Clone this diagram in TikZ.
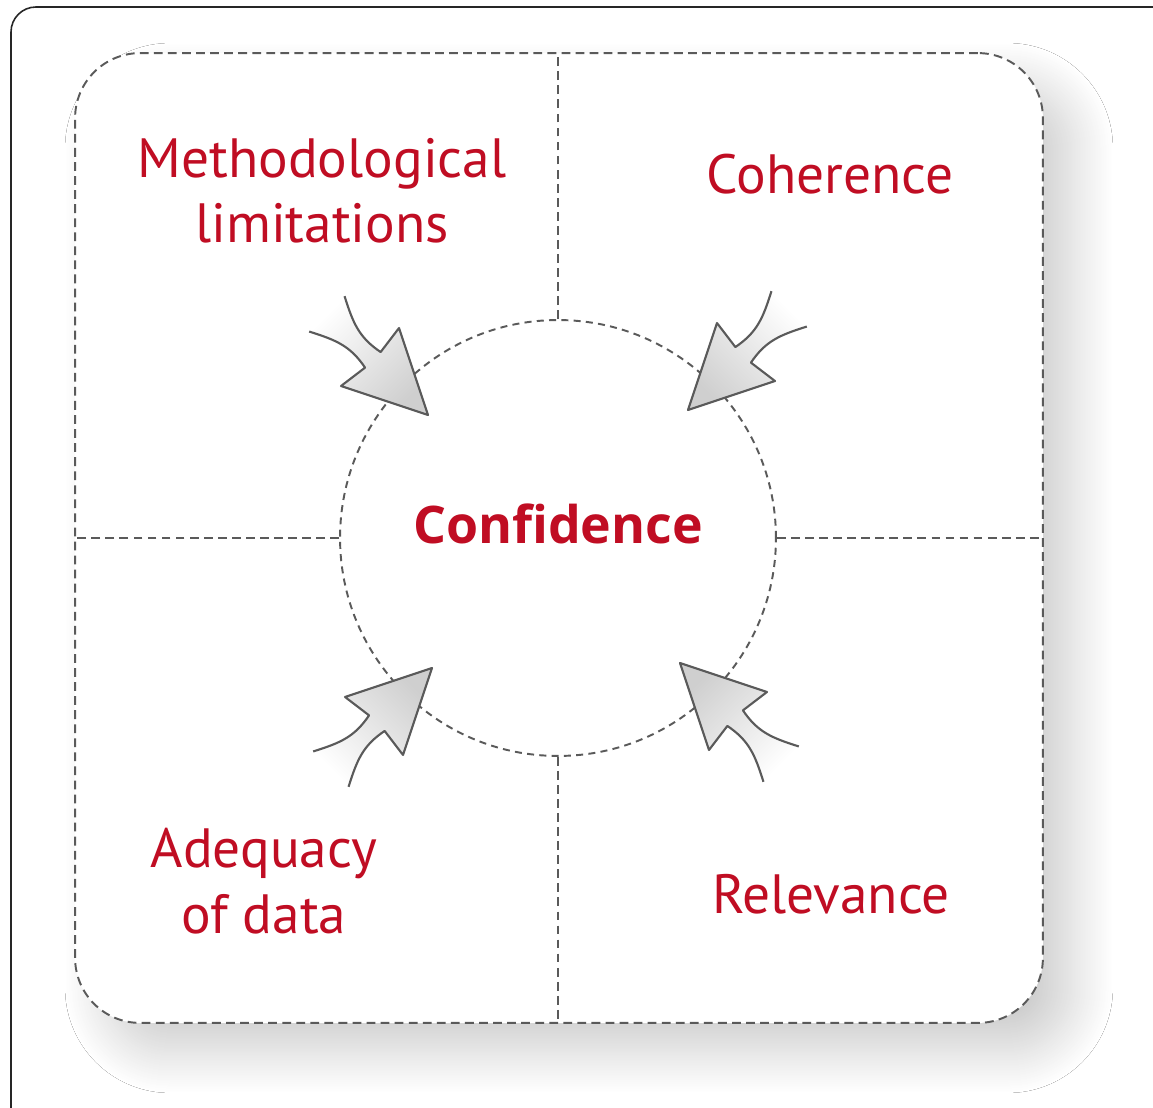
\documentclass[tikz,border=0pt]{standalone}
\usepackage{fontspec}
\setmainfont{PT Sans}
\newfontfamily\confont{Open Sans}
\usetikzlibrary{shadows.blur}

\definecolor{confred}{HTML}{C00D23}
\definecolor{lineg}{HTML}{5A5A5A}

\tikzset{
  factor/.style={text=confred, font=\fontsize{31.5}{37}\selectfont, align=center, inner sep=0pt},
  divider/.style={draw=lineg, line width=1.1pt, dash pattern=on 5pt off 3pt},
  inarrow/.pic={
    \draw[lineg, line width=1.2pt, line join=round, shading=axis, top color=gray!38, bottom color=white, shading angle=#1]
      (-143,-25) .. controls (-118,-12) and (-104,-6) .. (-78,-11) -- (-82,-41) -- (0,0)
      -- (-82,41) -- (-78,11) .. controls (-104,6) and (-118,12) .. (-143,25);
  }
}

\begin{document}
\begin{tikzpicture}[x=0.02cm, y=0.02cm]
  \useasboundingbox (0,0) rectangle (1153,1107);
  \clip (0,0) rectangle (1153,1107);
  \fill[white] (0,0) rectangle (1153,1107);
  % outer frame
  \draw[black!85, line width=0.9pt, rounded corners=0.5cm] (11,-40) rectangle (1200,1100);

  % dashed panel and centre circle
  \node[divider, rounded corners=1.3cm, fill=white, minimum width=19.36cm, minimum height=19.4cm,
        blur shadow={shadow xshift=0.6cm, shadow yshift=-0.6cm, shadow blur radius=0.8cm,
                     shadow blur steps=40, shadow opacity=19}]
    (panel) at (559,569) {};
  \node[circle, divider, dash pattern=on 4pt off 3pt, minimum size=8.72cm, inner sep=0pt,
        text depth=16pt, text=confred, font=\confont\bfseries\fontsize{29.5}{34}\selectfont]
    (conf) at (558,569) {Confidence};

  \draw[divider] (conf.north) -- (conf.north |- panel.north);
  \draw[divider] (conf.south) -- (conf.south |- panel.south);
  \draw[divider] (conf.west) -- (conf.west -| panel.west);
  \draw[divider] (conf.east) -- (conf.east -| panel.east);

  % labels
  \node[factor, anchor=base] (meth) at (322,864) {Methodological\\limitations};
  \node[factor, anchor=base] (coh) at (830,913) {Coherence};
  \node[factor, anchor=base] (adeq) at (264,174) {Adequacy\\of data};
  \node[factor, anchor=base] (rel) at (831,194) {Relevance};

  % arrows into the circle
  \pic[rotate=-45] at (428,692) {inarrow=-135};
  \pic[rotate=-135] at (688,697) {inarrow=135};
  \pic[rotate=45] at (432,439) {inarrow=-45};
  \pic[rotate=135] at (680,444) {inarrow=45};
\end{tikzpicture}
\end{document}
